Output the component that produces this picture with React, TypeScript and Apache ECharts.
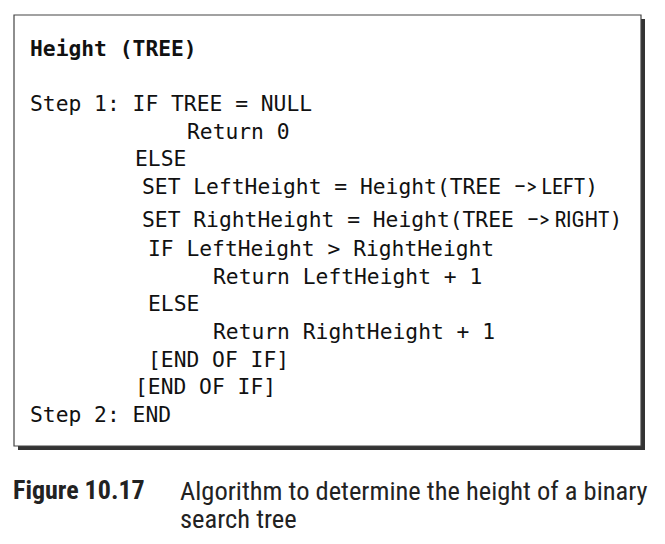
import { useRef, useEffect } from "react";
import * as echarts from "echarts";

const TITLE = "Height (TREE)";
// [indent x, text, optional sans tail, closing]
const LINES: [number, string, string?, string?][] = [
  [30, "Step 1: IF TREE = NULL"],
  [187, "Return 0"],
  [135, "ELSE"],
  [142, "SET LeftHeight = Height(TREE ", "–> LEFT", ")"],
  [142, "SET RightHeight = Height(TREE ", "–> RIGHT", ")"],
  [148, "IF LeftHeight > RightHeight"],
  [213, "Return LeftHeight + 1"],
  [148, "ELSE"],
  [213, "Return RightHeight + 1"],
  [148, "[END OF IF]"],
  [135, "[END OF IF]"],
  [30, "Step 2: END"],
];
const LINE_Y = [103, 131, 158, 186, 219, 248, 276, 303, 331, 359, 386, 414];
const FIG_LABEL = "Figure 10.17";
const FIG_TEXT = ["Algorithm to determine the height of a binary", "search tree"];

const MONO = "'DejaVu Sans Mono', monospace";
const NARROW = "'Liberation Sans Narrow', 'Roboto Condensed', 'Liberation Sans', sans-serif";

export default function App() {
  const ref = useRef<HTMLDivElement>(null);
  useEffect(() => {
    if (!ref.current) return;
    const chart = echarts.init(ref.current, null, { renderer: "svg" });
    const codeEls: any[] = LINES.map(([x, t, tail, end], i) => ({
      type: "text",
      x,
      y: LINE_Y[i],
      style: tail
        ? {
            text: `{m|${t}}{s|${tail}}{m|${end}}`,
            verticalAlign: "middle",
            rich: {
              m: { fontFamily: MONO, fontSize: 21.3, fill: "#111" },
              s: { fontFamily: NARROW, fontSize: 22, fill: "#111" },
            },
          }
        : { text: t, fontFamily: MONO, fontSize: 21.3, fill: "#111", verticalAlign: "middle" },
    }));
    chart.setOption({
      animation: false,
      graphic: [
        { type: "rect", shape: { x: 18, y: 19, width: 627, height: 431 }, style: { fill: "#333" } },
        { type: "rect", shape: { x: 14, y: 15, width: 627, height: 431 }, style: { fill: "#fff", stroke: "#444", lineWidth: 1.2 } },
        {
          type: "text", x: 30, y: 48,
          style: { text: TITLE, fontFamily: MONO, fontSize: 21.3, fontWeight: "bold", fill: "#111", verticalAlign: "middle" },
        },
        ...codeEls,
        {
          type: "text", x: 13, y: 490,
          style: { text: FIG_LABEL, fontFamily: NARROW, fontSize: 26, fontWeight: "bold", fill: "#222", verticalAlign: "middle" },
        },
        ...FIG_TEXT.map((t, i) => ({
          type: "text", x: 180, y: 490 + i * 28,
          style: { text: t, fontFamily: NARROW, fontSize: 26.5, fill: "#222", verticalAlign: "middle" },
        })),
      ],
    });
    return () => chart.dispose();
  }, []);
  return <div ref={ref} style={{ width: 665, height: 544, position: "absolute", left: 0, top: 0, background: "#fff" }} />;
}
